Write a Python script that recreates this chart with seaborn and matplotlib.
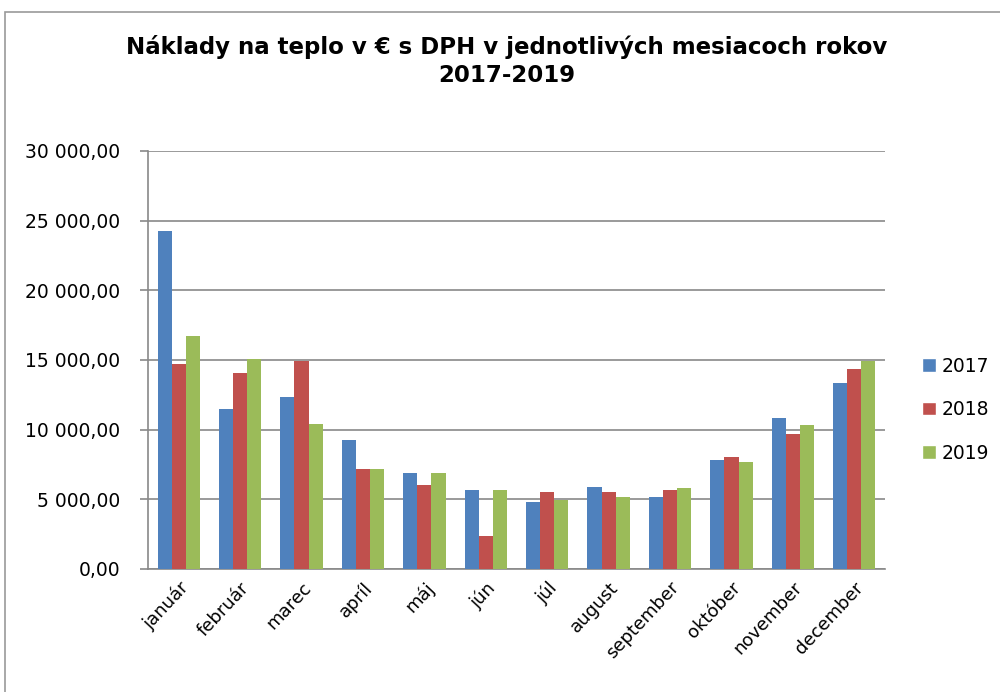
import pandas as pd
import matplotlib.pyplot as plt
import seaborn as sns
from matplotlib.ticker import FuncFormatter, FixedLocator
from matplotlib.patches import Rectangle, Patch

# DATA

months = ["január", "február", "marec", "apríl", "máj", "jún",
          "júl", "august", "september", "október", "november", "december"]
years = ["2017", "2018", "2019"]

costs_2017 = [24270, 11440, 12300, 9280, 6910, 5640, 4770, 5900, 5130, 7790, 10820, 13330]
costs_2018 = [14700, 14080, 14890, 7150, 6020, 2370, 5520, 5520, 5640, 8030, 9690, 14320]
costs_2019 = [16720, 15060, 10410, 7150, 6910, 5640, 4920, 5130, 5780, 7650, 10310, 14890]

colors = ["#4F81BD", "#C0504D", "#9BBB59"]
grid_color = "#898989"
text_color = "black"

df = pd.DataFrame({
    "mesiac": months * 3,
    "rok": [y for y in years for _ in months],
    "naklady": costs_2017 + costs_2018 + costs_2019,
})

sns.set_style("white")
plt.rcParams["font.family"] = ["DejaVu Sans"]

fig = plt.figure(figsize=(10, 6.92), dpi=100, facecolor="white")
ax = fig.add_axes([0.148, 0.178, 0.737, 0.604])

sns.barplot(
    data=df, x="mesiac", y="naklady", hue="rok",
    palette=colors, width=0.69, gap=0, saturation=1, linewidth=0,
    errorbar=None, ax=ax, legend=False, zorder=3
)

ax.set_xlim(-0.5, 11.5)
ax.set_ylim(0, 30000)
ax.set_yticks(range(0, 30001, 5000))
ax.yaxis.set_major_formatter(
    FuncFormatter(lambda v, p: f"{v:,.2f}".replace(",", " ").replace(".", ","))
)
ax.grid(axis="y", color=grid_color, linewidth=1.2, zorder=0)
ax.set_axisbelow(True)

for s in ["top", "right"]:
    ax.spines[s].set_visible(False)
for s in ["left", "bottom"]:
    ax.spines[s].set_color(grid_color)
    ax.spines[s].set_linewidth(1.2)

# ticks between categories, labels at centres
ax.xaxis.set_minor_locator(FixedLocator([i - 0.5 for i in range(13)]))
ax.tick_params(axis="x", which="major", length=0, pad=7, labelcolor=text_color)
ax.tick_params(axis="x", which="minor", length=6, color=grid_color, width=1.2, direction="out")
ax.tick_params(axis="y", length=6, color=grid_color, width=1.2, direction="out", left=True,
               pad=14, labelcolor=text_color)
ax.set_xticks(range(12))
ax.set_xticklabels(months, rotation=47, ha="right", rotation_mode="anchor", fontsize=13)
for t in ax.get_yticklabels():
    t.set_fontsize(13.5)

ax.set_xlabel("")
ax.set_ylabel("")

fig.text(0.507, 0.95, "Náklady na teplo v € s DPH v jednotlivých mesiacoch rokov\n2017-2019",
         ha="center", va="top", fontsize=16.5, fontweight="bold", linespacing=1.3,
         color=text_color)

handles = [Patch(facecolor=c, label=y) for c, y in zip(colors, years)]
fig.legend(handles=handles, loc="center left", bbox_to_anchor=(0.905, 0.408),
           frameon=False, fontsize=13.5, handlelength=0.75, handleheight=0.75,
           handletextpad=0.3, labelspacing=1.3, labelcolor=text_color)

# outer frame of the chart
fig.patches.append(Rectangle((0.005, -0.1), 1.2, 1.083, transform=fig.transFigure,
                             fill=False, edgecolor="#9a9a9a", linewidth=1.2))

plt.savefig("out.png", dpi=100, facecolor="white")
